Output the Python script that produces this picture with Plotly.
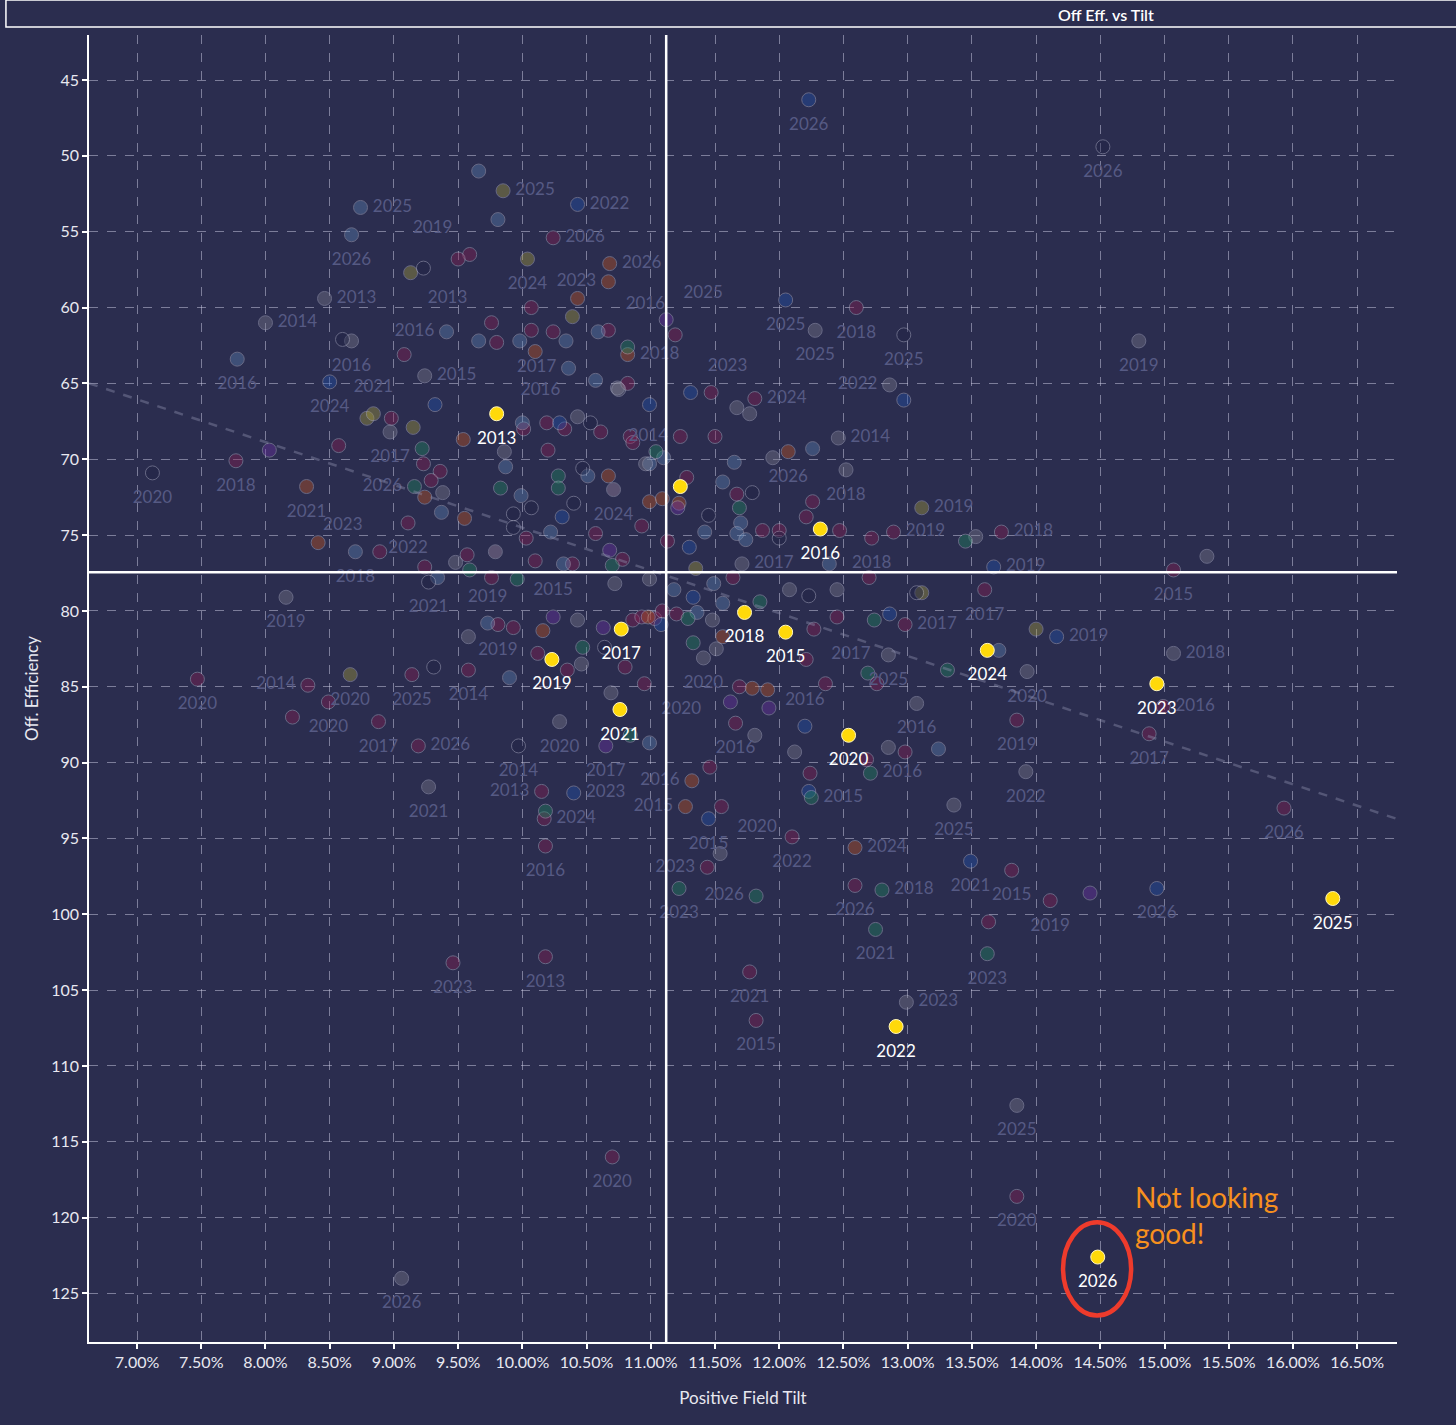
import plotly.graph_objects as go

# ---- data (x = positive field tilt in %, y = offensive efficiency) ----
# label strings: year + position code (b/r/l/t/tr/tl/br), "" = no label

MAROON_X = [10.24, 9.59, 9.50, 10.07, 11.19, 12.60, 9.76, 9.80, 10.07, 10.24,
            10.67, 9.08, 10.82, 8.98, 8.57, 9.23, 9.36, 9.29, 10.03, 9.57,
            10.10, 10.39, 10.57, 10.78, 10.93, 11.13, 10.61, 10.84, 10.86, 10.33,
            10.19, 10.20, 10.01, 9.11, 9.24, 8.89, 9.76, 7.77, 7.47, 8.33,
            8.49, 8.21, 9.14, 9.58, 9.81, 9.93, 10.86, 10.93, 11.03, 11.09,
            10.12, 10.35, 10.80, 10.95, 10.15, 10.17, 10.18, 9.19, 8.88, 9.46,
            10.18, 10.70, 11.44, 11.55, 12.10, 12.59, 13.85, 13.81, 13.63, 14.11,
            14.88, 14.99, 15.93, 11.77, 11.82, 13.85, 12.98, 12.68, 12.24, 11.69,
            11.66, 11.46, 11.20, 11.64, 12.27, 12.45, 12.21, 12.36, 12.76, 12.98,
            12.70, 13.60, 15.07, 11.81, 11.47, 11.23, 11.50, 11.28, 11.67, 12.26,
            12.21, 12.47, 11.87, 12.00, 12.89, 12.72, 13.73]
MAROON_Y = [55.4, 56.5, 56.8, 60.0, 61.8, 60.0, 61.0, 62.3, 61.5, 61.6,
            61.5, 63.1, 65.0, 67.3, 69.1, 70.3, 70.8, 71.4, 75.2, 76.3,
            76.7, 76.9, 74.9, 76.6, 74.4, 75.4, 68.2, 68.5, 68.9, 68.0,
            67.6, 69.4, 68.0, 74.2, 77.1, 76.1, 77.8, 70.1, 84.5, 84.9,
            86.0, 87.0, 84.2, 83.9, 80.9, 81.1, 80.6, 80.4, 80.5, 80.0,
            82.8, 83.9, 83.7, 84.8, 91.9, 93.7, 95.5, 88.9, 87.3, 103.2,
            102.8, 116.0, 96.9, 92.9, 94.9, 98.1, 87.2, 97.1, 100.5, 99.1,
            88.1, 86.3, 93.0, 103.8, 107.0, 118.6, 89.3, 89.8, 90.7, 85.0,
            87.4, 90.3, 80.2, 77.8, 81.2, 80.4, 83.2, 84.8, 84.8, 80.9,
            77.8, 78.6, 77.3, 66.0, 65.6, 68.5, 68.5, 71.2, 72.3, 72.8,
            73.8, 74.7, 74.7, 74.7, 74.8, 75.2, 74.8]
MAROON_LABEL = ["2026r", "2019tl", "", "", "", "2018b", "", "", "", "",
                "2016tr", "", "", "", "", "", "", "", "", "",
                "", "", "", "", "", "", "", "", "", "",
                "", "", "", "2022b", "", "2023tl", "", "2018b", "2020b", "2014l",
                "2020b", "", "2025b", "2014b", "2019b", "", "", "", "", "",
                "", "", "", "2020br", "2013l", "2024r", "2016b", "2026r", "2017b", "2023b",
                "2013b", "2020b", "2023l", "", "2022b", "2026b", "2019b", "2015b", "", "2019b",
                "2017b", "2016r", "2026b", "2021b", "2015b", "2020b", "", "", "", "",
                "2016b", "", "", "", "2017br", "", "", "", "", "2017r",
                "", "2017b", "2015b", "2024r", "", "2014l", "", "", "", "",
                "", "", "", "", "2019r", "2018b", "2018r"]

STEEL_X = [9.66, 8.74, 9.81, 8.67, 9.41, 9.66, 9.98, 10.34, 10.59, 10.36,
           10.57, 7.78, 9.87, 9.99, 10.32, 10.22, 10.99, 11.10, 10.51, 10.00,
           9.37, 8.70, 9.34, 9.73, 9.90, 10.99, 13.24, 11.18, 11.49, 11.36,
           11.56, 13.71, 12.26, 11.65, 11.56, 11.70, 11.67, 11.74, 11.42, 12.39]
STEEL_Y = [51.0, 53.4, 54.2, 55.2, 61.6, 62.2, 62.2, 62.2, 61.6, 64.0,
           64.8, 63.4, 70.5, 72.4, 76.9, 74.8, 70.3, 69.9, 71.1, 67.6,
           73.5, 76.1, 77.8, 80.8, 84.4, 88.7, 89.1, 78.6, 78.2, 80.1,
           79.5, 82.6, 69.3, 70.2, 71.5, 74.2, 74.9, 75.3, 74.8, 76.9]
STEEL_LABEL = ["", "2025r", "", "2026b", "2016l", "", "", "", "", "2017l",
               "", "2016b", "", "", "", "", "", "", "", "",
               "", "2018b", "", "2019t", "", "", "", "", "", "",
               "", "", "", "", "", "", "", "", "", ""]

BLUE_X = [12.23, 10.43, 12.05, 8.50, 9.32, 10.31, 10.29, 10.99, 11.08, 10.40,
          13.49, 14.94, 12.20, 12.23, 11.33, 12.86, 14.16, 12.97, 11.31, 11.30,
          13.67, 11.45]
BLUE_Y = [46.3, 53.2, 59.5, 64.9, 66.4, 73.8, 67.6, 66.4, 80.9, 92.0,
          96.5, 98.3, 87.6, 91.9, 79.1, 80.2, 81.7, 66.1, 65.6, 75.8,
          77.1, 93.7]
BLUE_LABEL = ["2026b", "2022r", "2025b", "2024b", "", "", "", "", "", "2023r",
              "2021b", "2026b", "2016t", "", "", "", "2019r", "", "2023tr", "",
              "2019r", "2015b"]

GRAY_X = [8.46, 8.00, 12.28, 8.67, 9.24, 10.74, 8.97, 9.38, 9.86, 9.48,
          10.96, 10.43, 10.75, 8.16, 9.58, 10.43, 10.46, 10.69, 10.99, 10.72,
          10.29, 9.27, 9.06, 11.54, 13.36, 13.92, 12.99, 13.85, 13.07, 12.85,
          12.12, 11.81, 11.48, 12.08, 12.45, 11.41, 11.51, 12.85, 13.93, 15.07,
          15.33, 14.80, 12.86, 11.67, 11.77, 12.46, 11.95, 12.52, 11.71, 13.53]
GRAY_Y = [59.4, 61.0, 61.5, 62.2, 64.5, 65.3, 68.2, 72.2, 69.5, 76.8,
          70.3, 67.2, 65.4, 79.1, 81.7, 80.6, 83.5, 85.4, 77.9, 78.2,
          87.3, 91.6, 124.0, 96.0, 92.8, 90.6, 105.8, 112.6, 86.1, 89.0,
          89.3, 88.2, 80.6, 78.6, 78.6, 83.1, 82.5, 82.9, 84.0, 82.8,
          76.4, 62.2, 65.1, 66.6, 67.0, 68.6, 69.9, 70.7, 76.9, 75.1]
GRAY_LABEL = ["2013r", "2014r", "2025b", "2016b", "2015r", "", "2017b", "", "", "",
              "", "2016tl", "", "2019b", "", "", "", "", "", "",
              "2020b", "2021b", "2026b", "2020tr", "2025b", "2022b", "2023r", "2025b", "2016b", "",
              "", "", "", "", "", "2020b", "", "2025b", "2020b", "2018r",
              "", "2019b", "2022l", "", "", "2014r", "", "2018b", "2017r", ""]

ORANGE_X = [10.68, 10.67, 10.43, 10.10, 10.82, 9.24, 9.54, 9.55, 10.99, 11.09,
            10.67, 8.41, 8.32, 10.16, 10.98, 11.32, 11.27, 12.59, 11.91, 11.79,
            11.56, 12.07, 11.22]
ORANGE_Y = [57.1, 58.3, 59.4, 62.9, 63.1, 72.5, 68.7, 73.9, 72.8, 72.6,
            71.1, 75.5, 71.8, 81.3, 80.4, 91.2, 92.9, 95.6, 85.2, 85.1,
            81.7, 69.5, 72.9]
ORANGE_LABEL = ["2026r", "2023l", "", "", "2018r", "", "", "", "", "",
                "", "", "2021b", "", "", "2016l", "2015l", "2024r", "", "",
                "", "2026b", ""]

OLIVE_X = [9.85, 10.04, 9.13, 10.39, 8.79, 8.84, 9.15, 8.66, 13.11, 14.00,
           13.11, 11.35]
OLIVE_Y = [52.3, 56.8, 57.7, 60.6, 67.3, 67.0, 67.9, 84.2, 78.8, 81.2,
           73.2, 77.2]
OLIVE_LABEL = ["2025r", "2024b", "2013br", "", "", "2021t", "", "2020b", "", "",
               "2019r", ""]

GREEN_X = [10.82, 9.22, 9.16, 9.83, 9.59, 9.96, 10.70, 11.04, 10.28, 10.28,
           10.47, 10.84, 10.18, 11.22, 11.82, 12.80, 12.75, 13.62, 12.71, 12.25,
           11.29, 11.85, 11.33, 12.69, 12.74, 13.31, 11.69, 13.45]
GREEN_Y = [62.6, 69.3, 71.8, 71.9, 77.3, 77.9, 77.0, 69.5, 71.1, 71.9,
           82.4, 88.2, 93.2, 98.3, 98.8, 98.4, 101.0, 102.6, 90.7, 92.3,
           80.5, 79.4, 82.1, 84.1, 80.6, 83.9, 73.2, 75.4]
GREEN_LABEL = ["", "", "2026l", "", "", "", "", "", "", "",
               "", "", "", "2023b", "2026l", "2018r", "2021b", "2023b", "2016r", "2015r",
               "", "", "", "", "", "", "", ""]

PURPLE_X = [11.12, 8.03, 10.68, 10.24, 10.63, 10.65, 14.42, 11.62, 11.92, 11.21]
PURPLE_Y = [60.8, 69.4, 76.0, 80.4, 81.1, 88.9, 98.6, 86.0, 86.4, 73.2]
PURPLE_LABEL = ["2025tr", "", "", "2015t", "", "2017b", "", "", "", ""]

PINK_X = [9.79, 10.71]
PINK_Y = [76.1, 72.0]
PINK_LABEL = ["", "2024b"]

HOLLOW_X = [14.52, 9.23, 12.97, 8.60, 10.07, 9.93, 9.93, 10.40, 10.47, 10.53,
            9.27, 7.12, 9.31, 10.64, 9.97, 12.23, 13.07, 11.79, 11.45, 12.00]
HOLLOW_Y = [49.4, 57.4, 61.8, 62.1, 73.2, 73.6, 74.5, 72.9, 70.6, 67.6,
            78.1, 70.9, 83.7, 82.4, 88.9, 79.0, 78.8, 72.2, 73.7, 75.2]
HOLLOW_LABEL = ["2026b", "", "2025b", "", "", "", "", "", "", "",
                "2021b", "2020b", "", "", "2014b", "", "", "", "", ""]

# highlighted team
HL_X = [9.80, 11.23, 12.32, 11.73, 12.05, 10.77, 10.23, 10.76, 12.54, 13.62,
        14.94, 16.31, 12.91, 14.48]
HL_Y = [67.0, 71.8, 74.6, 80.1, 81.4, 81.2, 83.2, 86.5, 88.2, 82.6,
        84.8, 98.96, 107.4, 122.6]
HL_YEAR = ["2013", "", "2016", "2018", "2015", "2017", "2019", "2021", "2020", "2024",
           "2023", "2025", "2022", "2026"]

AVG_TILT = 11.12
AVG_EFF = 77.45
TREND_SLOPE = 2.82
TREND_INTERCEPT = 46.31

X_RANGE = [6.626, 16.81]
Y_RANGE = [128.2, 42.03]

BG = "#2b2d4f"
FONT = "Lato"

POS = {"b": "bottom center", "r": "middle right", "l": "middle left",
       "t": "top center", "tr": "top right", "tl": "top left", "br": "bottom right"}

groups = [
    (MAROON_X, MAROON_Y, MAROON_LABEL, "#8e1c50"),
    (STEEL_X, STEEL_Y, STEEL_LABEL, "#5f88b8"),
    (BLUE_X, BLUE_Y, BLUE_LABEL, "#1f52b0"),
    (GRAY_X, GRAY_Y, GRAY_LABEL, "#808090"),
    (ORANGE_X, ORANGE_Y, ORANGE_LABEL, "#c8561c"),
    (OLIVE_X, OLIVE_Y, OLIVE_LABEL, "#aaa03a"),
    (GREEN_X, GREEN_Y, GREEN_LABEL, "#1d8a5e"),
    (PURPLE_X, PURPLE_Y, PURPLE_LABEL, "#7030a8"),
    (PINK_X, PINK_Y, PINK_LABEL, "#a890a8"),
    (HOLLOW_X, HOLLOW_Y, HOLLOW_LABEL, "#1e2144"),
]

fig = go.Figure()

# faint marks for the rest of the league
lab_x, lab_y, lab_t, lab_p, lab_s = [], [], [], [], []
for xs, ys, labels, col in groups:
    fig.add_trace(go.Scatter(
        x=xs, y=ys, mode="markers",
        marker=dict(size=14, color=col, opacity=0.38,
                    line=dict(color="#c8c8dc", width=1)),
        hoverinfo="skip", showlegend=False))
    for x, y, s in zip(xs, ys, labels):
        if not s:
            continue
        code = s[4:] or "b"
        lab_x.append(x)
        lab_y.append(y)
        lab_t.append(s[:4])
        lab_p.append(POS[code])
        # invisible marker size only controls how far the label sits from the point
        lab_s.append(18 if code in ("r", "l") else 26)

fig.add_trace(go.Scatter(
    x=lab_x, y=lab_y, mode="markers+text", text=lab_t, textposition=lab_p,
    textfont=dict(family=FONT, size=17, color="#565a84"),
    marker=dict(size=lab_s, opacity=0), hoverinfo="skip", showlegend=False))

# trend line
tx = X_RANGE
ty = [TREND_SLOPE * v + TREND_INTERCEPT for v in tx]
fig.add_trace(go.Scatter(x=tx, y=ty, mode="lines",
                         line=dict(color="rgba(140,142,175,0.42)", width=2.5, dash="dash"),
                         hoverinfo="skip", showlegend=False))

fig.add_trace(go.Scatter(
    x=HL_X, y=HL_Y, mode="markers",
    marker=dict(size=14, color="#ffd90a", line=dict(color="#fff6c0", width=1)),
    showlegend=False))
fig.add_trace(go.Scatter(
    x=HL_X, y=HL_Y, mode="markers+text", text=HL_YEAR, textposition="bottom center",
    textfont=dict(family=FONT, size=17, color="white"),
    marker=dict(size=26, opacity=0), hoverinfo="skip", showlegend=False))

fig.update_layout(
    width=1456, height=1425,
    paper_bgcolor=BG, plot_bgcolor=BG,
    margin=dict(l=89, r=59, t=35, b=83),
    font=dict(family=FONT, color="#e8e8f0"),
    shapes=[
        dict(type="line", xref="x", yref="paper", x0=AVG_TILT, x1=AVG_TILT, y0=0, y1=1,
             line=dict(color="white", width=2.5), layer="above"),
        dict(type="line", xref="paper", yref="y", x0=0, x1=1, y0=AVG_EFF, y1=AVG_EFF,
             line=dict(color="white", width=2.5), layer="above"),
        dict(type="circle", xref="x", yref="y", x0=14.21, x1=14.74, y0=120.3, y1=126.45,
             line=dict(color="#ee3b2c", width=4.5)),
        dict(type="rect", xref="paper", yref="paper", x0=-0.0635, x1=1.06,
             y0=1.0061, y1=1.0268, line=dict(color="white", width=1.5)),
    ],
    annotations=[
        dict(text="Off Eff. vs Tilt", xref="paper", yref="paper", x=0.7775, y=1.0160,
             xanchor="center", yanchor="middle", showarrow=False,
             font=dict(family=FONT, size=16, color="white", weight=600)),
        dict(text="Not looking<br>good!", xref="x", yref="y", x=14.757, y=117.4,
             xanchor="left", yanchor="top", align="left", showarrow=False,
             font=dict(family=FONT, size=28, color="#f7901e")),
    ],
)

axis_common = dict(
    showgrid=True, gridcolor="rgba(205,205,230,0.5)", griddash="dash", gridwidth=1,
    showline=True, linecolor="white", linewidth=1.5, zeroline=False,
    ticks="outside", tickcolor="white", ticklen=5, tickwidth=1.5,
    tickfont=dict(family=FONT, size=16, color="#e8e8f0"), automargin=False,
)

fig.update_xaxes(range=X_RANGE, tick0=7, dtick=0.5, tickformat=".2f", ticksuffix="%",
                 title=dict(text="Positive Field Tilt", standoff=22,
                            font=dict(family=FONT, size=17, color="#e8e8f0")),
                 **axis_common)
fig.update_yaxes(range=Y_RANGE, tick0=45, dtick=5,
                 title=dict(text="Off. Efficiency", standoff=8,
                            font=dict(family=FONT, size=17, color="#e8e8f0")),
                 **axis_common)

fig.write_html("out.html", config={"displayModeBar": False},
               post_script="document.body.style.margin='0';"
                           "document.body.style.background='" + BG + "';")
